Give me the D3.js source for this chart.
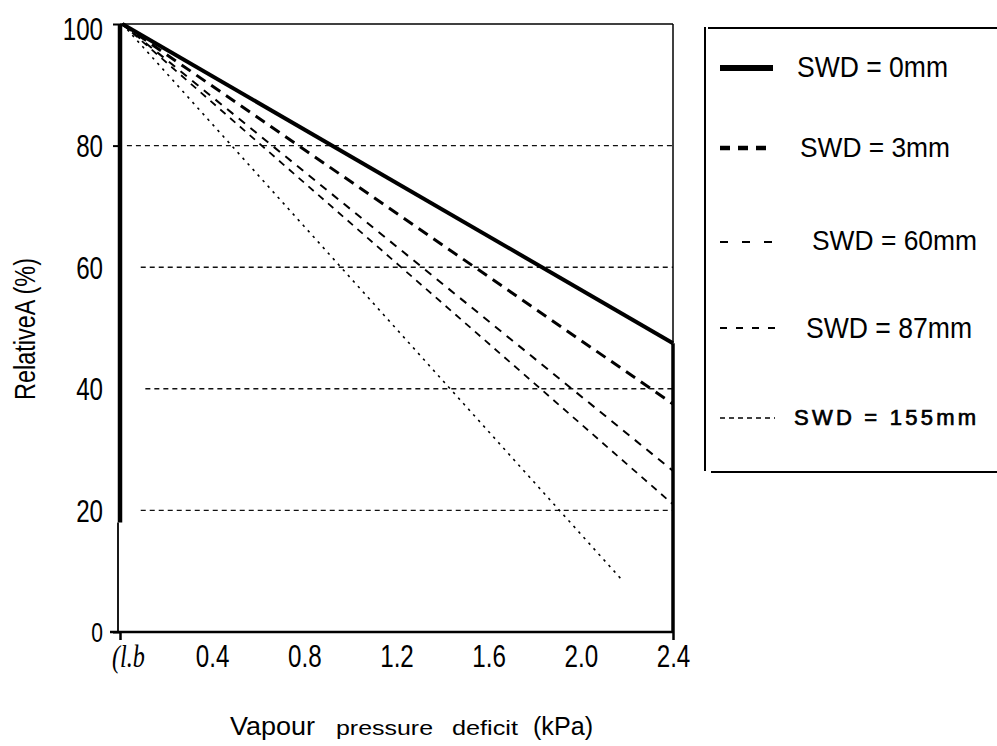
<!DOCTYPE html>
<html>
<head>
<meta charset="utf-8">
<script src="https://cdn.jsdelivr.net/npm/d3@7"></script>
<style>
  body { margin: 0; background: #fff; }
  svg { display: block; font-family: "Liberation Sans", Arial, sans-serif; }
</style>
</head>
<body>
<div id="chart"></div>
<script>
// 数据 - 从图上读出
const swdNames = ["SWD = 0mm", "SWD = 3mm", "SWD = 60mm", "SWD = 87mm", "SWD = 155mm"];
const seriesVPD = [[0.01, 2.4], [0.01, 2.4], [0.01, 2.4], [0.01, 2.4], [0.01, 2.18]];
const seriesA = [[100, 47.5], [100, 37.5], [100, 26.5], [100, 21], [100, 8.5]];
const xTicks = [0, 0.4, 0.8, 1.2, 1.6, 2.0, 2.4];
const yTicks = [0, 20, 40, 60, 80, 100];
const gridValues = [20, 40, 60, 80];

const width = 997, height = 746;
const x = d3.scaleLinear().domain([0, 2.4]).range([120, 673]);
const y = d3.scaleLinear().domain([0, 100]).range([632, 24]);

// 线型
const lineStyle = [
  { w: 4, dash: null },
  { w: 3, dash: "11,7" },
  { w: 2, dash: "8,7" },
  { w: 1.8, dash: "7,6" },
  { w: 1.6, dash: "2.5,5" }
];
const legendStyle = [
  { w: 6, dash: null, x2: 773 },
  { w: 4.5, dash: "10,8", x2: 770 },
  { w: 1.8, dash: "8,14", x2: 778 },
  { w: 1.8, dash: "7,9", x2: 778 },
  { w: 1.4, dash: "5,4", x2: 775 }
];
const legendText = [
  { x: 797, y: 77, size: 30, len: 151, adj: "spacingAndGlyphs", sw: 0 },
  { x: 800, y: 157, size: 27, len: 150, adj: "spacingAndGlyphs", sw: 0 },
  { x: 812, y: 250, size: 28, len: 165, adj: "spacingAndGlyphs", sw: 0 },
  { x: 806, y: 338, size: 29.5, len: 166, adj: "spacingAndGlyphs", sw: 0 },
  { x: 794, y: 425, size: 22, len: 182, adj: "spacing", sw: 0.7 }
];
const legendLineY = [68, 148, 242, 328, 418];

const svg = d3.select("#chart").append("svg")
  .attr("width", width)
  .attr("height", height);

// 网格线
const gridStart = { 20: 0.09, 40: 0.11, 60: 0.09, 80: 0.03 };
svg.append("g").selectAll("line")
  .data(gridValues)
  .enter().append("line")
  .attr("x1", d => x(gridStart[d]))
  .attr("x2", x(2.4))
  .attr("y1", d => y(d))
  .attr("y2", d => y(d))
  .attr("stroke", "#111")
  .attr("stroke-width", 1.4)
  .attr("stroke-dasharray", "5,4");

// 边框
svg.append("line").attr("x1", x(0)).attr("x2", x(2.4)).attr("y1", y(100)).attr("y2", y(100))
  .attr("stroke", "#000").attr("stroke-width", 1.5);
svg.append("line").attr("x1", x(2.4)).attr("x2", x(2.4)).attr("y1", y(100)).attr("y2", y(47.5))
  .attr("stroke", "#000").attr("stroke-width", 1.5);
svg.append("line").attr("x1", x(2.4)).attr("x2", x(2.4)).attr("y1", y(47.5)).attr("y2", y(0))
  .attr("stroke", "#000").attr("stroke-width", 3.5);
// 左轴：上粗下细
svg.append("line").attr("x1", x(0)).attr("x2", x(0)).attr("y1", y(100)).attr("y2", y(18))
  .attr("stroke", "#000").attr("stroke-width", 4.5);
svg.append("line").attr("x1", x(0) - 2).attr("x2", x(0) - 2).attr("y1", y(18)).attr("y2", y(0))
  .attr("stroke", "#000").attr("stroke-width", 1.8);
// 底轴
svg.append("line").attr("x1", x(0) - 10).attr("x2", x(2.4)).attr("y1", y(0)).attr("y2", y(0))
  .attr("stroke", "#000").attr("stroke-width", 2.5);

// 数据线
const line = d3.line().x(d => x(d[0])).y(d => y(d[1]));
svg.append("g").selectAll("path")
  .data(swdNames.map((n, i) => seriesVPD[i].map((v, j) => [v, seriesA[i][j]])))
  .enter().append("path")
  .attr("d", line)
  .attr("fill", "none")
  .attr("stroke", "#000")
  .attr("stroke-width", (d, i) => lineStyle[i].w)
  .attr("stroke-dasharray", (d, i) => lineStyle[i].dash);

// y 轴
const sx = 0.78;
const yAxis = svg.append("g")
  .attr("transform", "translate(" + x(0) + ",0)")
  .call(d3.axisLeft(y).tickValues(yTicks).tickSize(7).tickFormat(d3.format("d")));
yAxis.select(".domain").remove();
yAxis.selectAll(".tick line")
  .attr("stroke-width", 2)
  .attr("opacity", d => (d === 0 || d === 80 || d === 100) ? 1 : 0);
yAxis.selectAll(".tick text")
  .attr("fill", "#000")
  .style("font-size", d => d === 0 ? "27px" : "31px")
  .attr("x", -17 / sx)
  .attr("dy", d => d === 100 ? "0.5em" : "0.36em")
  .attr("transform", "scale(" + sx + ",1)");

// x 轴
const xAxis = svg.append("g")
  .attr("transform", "translate(0," + y(0) + ")")
  .call(d3.axisBottom(x).tickValues(xTicks).tickSize(8)
    .tickFormat(d => d === 0 ? "(l.b" : d3.format(".1f")(d)));
xAxis.select(".domain").remove();
xAxis.selectAll(".tick line")
  .attr("stroke-width", 2.5)
  .attr("opacity", d => (d === 0 || d === 2.4) ? 1 : 0);
xAxis.selectAll(".tick text")
  .attr("fill", "#000")
  .style("font-size", "31px")
  .attr("y", 0)
  .attr("dy", 0)
  .attr("x", 0)
  .attr("transform", "translate(0,35) scale(" + sx + ",1)")
  .filter(d => d === 0)
  .attr("transform", "translate(8,35) scale(" + sx + ",1)")
  .style("font-family", "'Liberation Serif', serif")
  .style("font-style", "italic");

// 轴标题
svg.append("text")
  .attr("transform", "translate(35,329) rotate(-90)")
  .attr("text-anchor", "middle")
  .attr("textLength", 142)
  .attr("lengthAdjust", "spacingAndGlyphs")
  .style("font-size", "29px")
  .text("RelativeA (%)");

const xTitle = [
  { t: "Vapour", x: 230, len: 85, size: 25 },
  { t: "pressure", x: 336, len: 97, size: 21 },
  { t: "deficit", x: 452, len: 66, size: 21 },
  { t: "(kPa)", x: 533, len: 60, size: 25 }
];
svg.append("g").selectAll("text")
  .data(xTitle)
  .enter().append("text")
  .attr("x", d => d.x)
  .attr("y", 735)
  .attr("textLength", d => d.len)
  .attr("lengthAdjust", "spacingAndGlyphs")
  .style("font-size", d => d.size + "px")
  .text(d => d.t);

// 图例
const lg = svg.append("g");
lg.append("line").attr("x1", 705).attr("x2", 705).attr("y1", 27).attr("y2", 471)
  .attr("stroke", "#000").attr("stroke-width", 2);
lg.append("line").attr("x1", 708).attr("x2", width).attr("y1", 28).attr("y2", 28)
  .attr("stroke", "#000").attr("stroke-width", 2);
lg.append("line").attr("x1", 711).attr("x2", width).attr("y1", 472).attr("y2", 472)
  .attr("stroke", "#000").attr("stroke-width", 2);

const items = lg.selectAll("g.item")
  .data(swdNames)
  .enter().append("g")
  .attr("class", "item");
items.append("line")
  .attr("x1", 720)
  .attr("x2", (d, i) => legendStyle[i].x2)
  .attr("y1", (d, i) => legendLineY[i])
  .attr("y2", (d, i) => legendLineY[i])
  .attr("stroke", "#000")
  .attr("stroke-width", (d, i) => legendStyle[i].w)
  .attr("stroke-dasharray", (d, i) => legendStyle[i].dash);
items.append("text")
  .attr("x", (d, i) => legendText[i].x)
  .attr("y", (d, i) => legendText[i].y)
  .attr("textLength", (d, i) => legendText[i].len)
  .attr("lengthAdjust", (d, i) => legendText[i].adj)
  .style("font-size", (d, i) => legendText[i].size + "px")
  .attr("stroke", "#000")
  .attr("stroke-width", (d, i) => legendText[i].sw)
  .text(d => d);
</script>
</body>
</html>
